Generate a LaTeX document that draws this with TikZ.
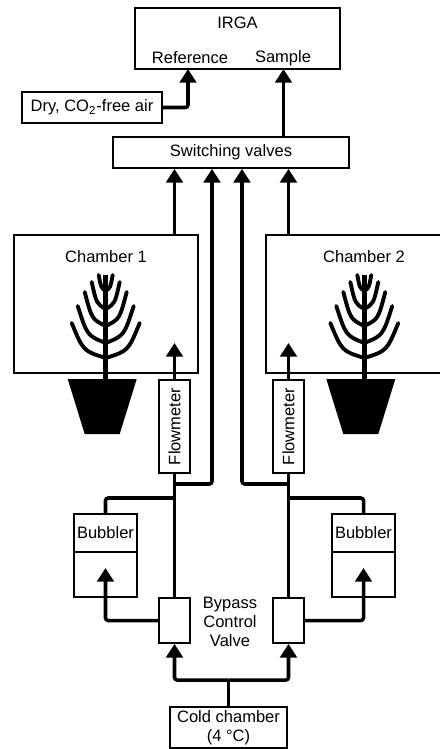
\documentclass[tikz,border=0pt]{standalone}
\usepackage{fontspec}
\setmainfont{Liberation Sans}
\usetikzlibrary{arrows.meta,calc}

\tikzset{
  plant/.pic={
    \fill (-38,0) -- (31,0) -- (14,55) -- (-21,55) -- cycle;
    \draw[line width=2.6pt] (0,5) -- (0,-104);
    \foreach \w/\t/\j in {34/56/21, 28/73/36, 21/87/53, 14/97/70, 7/104/88}
      \draw[line width=2.2pt, line cap=round]
        (-\w,-\t) .. controls ({-0.66*\w},{-\j-0.2*(\t-\j)}) .. (0,-\j)
        .. controls ({0.66*\w},{-\j-0.2*(\t-\j)}) .. (\w,-\t);
  }
}

\begin{document}
\begin{tikzpicture}[
  x=0.02cm, y=-0.02cm,
  font=\fontsize{9.4}{10.8}\selectfont,
  box/.style={draw, line width=1pt, inner sep=0pt, align=center},
  tag/.style={inner sep=0pt, align=center},
  line/.style={line width=2pt, rounded corners=1.5pt},
  pipe/.style={line, -{Triangle[length=7.8pt, width=9.4pt]}}
]
\useasboundingbox (0,0) rectangle (439,749);

\node[box, minimum width=4.1cm, minimum height=1.22cm] (irga) at (237.5,38.5) {};
\node[tag] (irgalab) at (237.5,23) {IRGA};
\node[tag] (reflab) at (190,58) {Reference};
\node[tag] (smplab) at (283,58) {Sample};

\node[box, minimum width=2.8cm, minimum height=0.62cm] (dry) at (92,107.5) {Dry, CO\textsubscript{2}-free air};
\node[box, minimum width=4.72cm, minimum height=0.62cm] (sv) at (231,152.5) {Switching valves};

\node[box, minimum width=3.68cm, minimum height=2.76cm] (ch1) at (106,304) {};
\node[box, minimum width=3.92cm, minimum height=2.76cm] (ch2) at (364,304) {};
\node[tag] (ch1lab) at (106,257) {Chamber 1};
\node[tag] (ch2lab) at (364,257) {Chamber 2};
\pic at (105.7,379) {plant};
\pic at (364.3,379) {plant};

\node[box, fill=white, minimum width=0.62cm, minimum height=1.86cm] (fm1) at (174.5,426.5) {};
\node[box, fill=white, minimum width=0.62cm, minimum height=1.86cm] (fm2) at (288.5,426.5) {};
\node[tag, rotate=90] (fm1lab) at (fm1) {Flowmeter};
\node[tag, rotate=90] (fm2lab) at (fm2) {Flowmeter};

\node[box, minimum width=1.26cm, minimum height=1.66cm] (bub1) at (105.5,555.5) {};
\node[box, minimum width=1.26cm, minimum height=1.66cm] (bub2) at (363.5,555.5) {};
\node[tag] (bub1lab) at (105.5,533) {Bubbler};
\node[tag] (bub2lab) at (363.5,533) {Bubbler};
\draw[line width=1pt] (bub1.west |- 0,552) -- (bub1.east |- 0,552);
\draw[line width=1pt] (bub2.west |- 0,552) -- (bub2.east |- 0,552);

\node[box, minimum width=0.62cm, minimum height=0.9cm] (bp1) at (174.5,620.5) {};
\node[box, minimum width=0.62cm, minimum height=0.9cm] (bp2) at (288.5,620.5) {};
\node[tag] (bplab) at (230,622) {Bypass\\Control\\Valve};

\node[box, minimum width=2.34cm, minimum height=0.82cm] (cold) at (228.5,727.5) {Cold chamber\\(4~°C)};

\coordinate (refin) at (188,69);
\coordinate (smpin) at (283.5,69);
\coordinate (in1) at (174.5,343);
\coordinate (in2) at (288.5,343);
\coordinate (by1) at (212,484);
\coordinate (by2) at (242,484);
\coordinate (bin1) at (105.5,568);
\coordinate (bin2) at (363.5,568);
\coordinate (split) at (228.5,680);

\draw[pipe] (dry.east) -| (refin);
\draw[pipe] (sv.north -| smpin) -- (smpin);

\draw[pipe] (ch1.north -| fm1) -- (sv.south -| fm1);
\draw[pipe] (ch2.north -| fm2) -- (sv.south -| fm2);
\draw[pipe] (fm1) -- (in1);
\draw[pipe] (fm2) -- (in2);

\draw[line] (fm1) -- (bp1);
\draw[line] (fm2) -- (bp2);
\draw[pipe] (fm1 |- by1) -- (by1) -- (sv.south -| by1);
\draw[pipe] (fm2 |- by2) -- (by2) -- (sv.south -| by2);
\draw[line] (fm1 |- 0,498) -| (bub1);
\draw[line] (fm2 |- 0,498) -| (bub2);

\draw[pipe] (bp1) -| (bin1);
\draw[pipe] (bp2) -| (bin2);
\draw[line] (cold) -- (split);
\draw[pipe] (split) -| (bp1);
\draw[pipe] (split) -| (bp2);

\end{tikzpicture}
\end{document}
